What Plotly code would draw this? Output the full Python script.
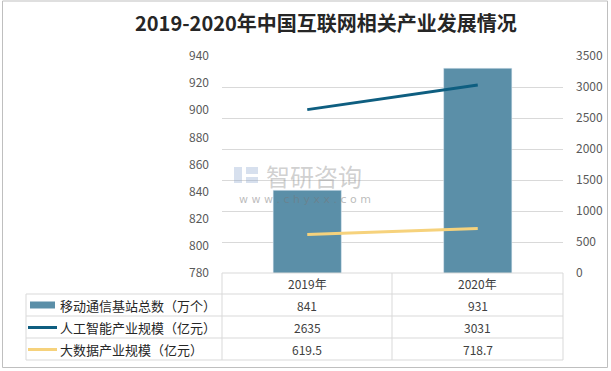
import plotly.graph_objects as go

# ---- data ----
categories = ["2019年", "2020年"]
base_stations = [841, 931]          # 移动通信基站总数（万个）
ai_scale = [2635, 3031]             # 人工智能产业规模（亿元）
bigdata_scale = [619.5, 718.7]      # 大数据产业规模（亿元）
series_names = ["移动通信基站总数（万个）", "人工智能产业规模（亿元）", "大数据产业规模（亿元）"]
title_text = "2019-2020年中国互联网相关产业发展情况"
left_ticks = [780, 800, 820, 840, 860, 880, 900, 920, 940]
right_ticks = [0, 500, 1000, 1500, 2000, 2500, 3000, 3500]

W, H = 611, 371
BAR_C = "#5B8FA8"
AI_C = "#0E5E80"
BD_C = "#F6D27C"
GRID_C = "#D9D9D9"
TXT_C = "#404040"
FONT = "Noto Sans CJK SC"

def px(x):
    return x / W

def py(y):
    return 1 - y / H

fig = go.Figure()
fig.add_trace(go.Bar(x=categories, y=base_stations, marker_color=BAR_C, width=0.4,
                     name=series_names[0], yaxis="y"))
fig.add_trace(go.Scatter(x=categories, y=ai_scale, mode="lines", line=dict(color=AI_C, width=3),
                         name=series_names[1], yaxis="y2"))
fig.add_trace(go.Scatter(x=categories, y=bigdata_scale, mode="lines", line=dict(color=BD_C, width=3),
                         name=series_names[2], yaxis="y2"))

plot_l, plot_r, plot_t, plot_b = 222, 563, 56, 273

fig.update_layout(
    width=W, height=H,
    margin=dict(l=0, r=0, t=0, b=0, autoexpand=False),
    paper_bgcolor="white", plot_bgcolor="white",
    showlegend=False,
    font=dict(family=FONT, color=TXT_C),
    xaxis=dict(domain=[px(plot_l), px(plot_r)], range=[-0.5, 1.5], showticklabels=False,
               showgrid=False, zeroline=False, showline=False, fixedrange=True, automargin=False),
    yaxis=dict(domain=[py(plot_b), py(plot_t)], range=[780, 940], tickvals=left_ticks,
               showgrid=False, zeroline=False, showline=False, automargin=False,
               tickfont=dict(size=12, color="#595959"), ticks="", ticklabelstandoff=12),
    yaxis2=dict(overlaying="y", side="right", range=[0, 3500], tickvals=right_ticks,
                showgrid=True, gridcolor=GRID_C, gridwidth=1, zeroline=False, showline=False,
                automargin=False,
                tickfont=dict(size=12, color="#595959"), ticks="", ticklabelstandoff=12),
    bargap=0.6,
)

shapes = []
# outer border
shapes.append(dict(type="rect", xref="paper", yref="paper", x0=px(2.5), x1=px(607.5),
                   y0=py(367.5), y1=py(1), line=dict(color="#BFBFBF", width=1)))
# table lines
row_lines = [273, 294, 316, 338, 360]
for i, y in enumerate(row_lines):
    x0 = plot_l if i == 0 else 26
    shapes.append(dict(type="line", xref="paper", yref="paper", x0=px(x0), x1=px(plot_r),
                       y0=py(y), y1=py(y), line=dict(color=GRID_C, width=1)))
for x, ytop in [(26, 294), (plot_l, 273), (392, 273), (plot_r, 273)]:
    shapes.append(dict(type="line", xref="paper", yref="paper", x0=px(x), x1=px(x),
                       y0=py(ytop), y1=py(360), line=dict(color=GRID_C, width=1)))
# legend keys
shapes.append(dict(type="rect", xref="paper", yref="paper", x0=px(30), x1=px(55),
                   y0=py(308.5), y1=py(301.5), fillcolor=BAR_C, line=dict(width=0)))
shapes.append(dict(type="line", xref="paper", yref="paper", x0=px(28), x1=px(57),
                   y0=py(327.5), y1=py(327.5), line=dict(color=AI_C, width=3)))
shapes.append(dict(type="line", xref="paper", yref="paper", x0=px(28), x1=px(57),
                   y0=py(349.5), y1=py(349.5), line=dict(color=BD_C, width=3)))
# watermark logo blocks
for (x0, y0, x1, y1) in [(234, 167, 242, 183), (246, 167, 258, 174), (246, 177, 258, 183)]:
    shapes.append(dict(type="rect", xref="paper", yref="paper", x0=px(x0), x1=px(x1),
                       y0=py(y1), y1=py(y0), fillcolor="rgba(140,165,205,0.35)", line=dict(width=0),
                       layer="above"))
fig.update_layout(shapes=shapes)

ann = []
ann.append(dict(text="<b>" + title_text + "</b>", xref="paper", yref="paper", x=px(326), y=py(22),
                showarrow=False, font=dict(size=20, color="#262626", family=FONT),
                xanchor="center", yanchor="middle"))
# watermark
ann.append(dict(text="智研咨询", xref="paper", yref="paper", x=px(265), y=py(175), showarrow=False,
                xanchor="left", yanchor="middle", borderpad=0,
                font=dict(size=24, color="rgba(150,150,150,0.45)", family=FONT)))
ann.append(dict(text="w w w . c h y x x . c o m", xref="paper", yref="paper", x=px(305), y=py(200),
                showarrow=False, xanchor="center", yanchor="middle", borderpad=0,
                font=dict(size=11, color="rgba(120,120,120,0.5)", family="DejaVu Sans")))
# table header
header_y = (273 + 294) / 2
for c in categories:
    ann.append(dict(text=c, xref="x", yref="paper", x=c, y=py(header_y), showarrow=False,
                    xanchor="center", yanchor="middle", font=dict(size=12, color=TXT_C)))
rows = [base_stations, ai_scale, bigdata_scale]
row_centers = [(294 + 316) / 2, (316 + 338) / 2, (338 + 360) / 2]
for name, vals, yc in zip(series_names, rows, row_centers):
    ann.append(dict(text=name, xref="paper", yref="paper", x=px(58), y=py(yc), showarrow=False,
                    xanchor="left", yanchor="middle", font=dict(size=13, color="#262626")))
    for c, v in zip(categories, vals):
        ann.append(dict(text=str(v), xref="x", yref="paper", x=c, y=py(yc), showarrow=False,
                        xanchor="center", yanchor="middle", font=dict(size=12, color=TXT_C)))
fig.update_layout(annotations=ann)

fig.write_html("out.html", config={"displayModeBar": False},
               post_script="document.body.style.margin='0';document.body.style.overflow='hidden';")
